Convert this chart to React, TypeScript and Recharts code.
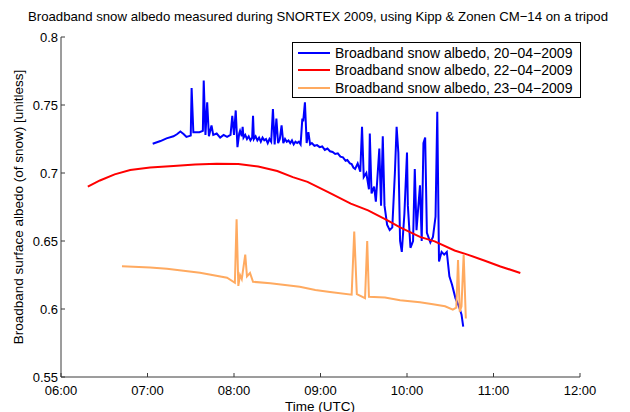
import { LineChart, Line, XAxis, YAxis } from 'recharts'

// time in decimal hours (UTC), albedo unitless
const t20 = [
  7.06, 7.15, 7.22, 7.30, 7.34, 7.38, 7.42, 7.45, 7.50, 7.51, 7.53, 7.60, 7.64, 7.65, 7.67, 7.69,
  7.71, 7.74, 7.76, 7.80, 7.84, 7.88, 7.92, 7.96, 7.98, 8.00, 8.02, 8.04, 8.06, 8.07, 8.09, 8.10,
  8.11, 8.13, 8.15, 8.17, 8.19, 8.21, 8.22, 8.23, 8.25, 8.27, 8.29, 8.31, 8.33, 8.35, 8.37, 8.39,
  8.41, 8.43, 8.45, 8.47, 8.49, 8.51, 8.53, 8.55, 8.57, 8.59, 8.61, 8.63, 8.65, 8.67, 8.69, 8.71,
  8.73, 8.75, 8.77, 8.79, 8.80, 8.82, 8.84, 8.86, 8.88, 8.90, 8.93, 8.96, 8.99, 9.02, 9.05, 9.08,
  9.11, 9.14, 9.17, 9.20, 9.23, 9.26, 9.29, 9.31, 9.34, 9.36, 9.38, 9.40, 9.43, 9.46, 9.48, 9.50,
  9.53, 9.56, 9.57, 9.59, 9.62, 9.64, 9.68, 9.70, 9.72, 9.74, 9.77, 9.80, 9.83, 9.86, 9.88, 9.90,
  9.92, 9.94, 9.97, 10.00, 10.01, 10.04, 10.07, 10.09, 10.11, 10.15, 10.17, 10.19, 10.21, 10.23,
  10.27, 10.30, 10.33, 10.35, 10.37, 10.40, 10.43, 10.46, 10.49, 10.52, 10.56, 10.60, 10.63, 10.65,
]
const albedo20 = [
  0.7215, 0.7235, 0.7255, 0.727, 0.7285, 0.7305, 0.7285, 0.7265, 0.7275, 0.7625, 0.73, 0.73, 0.731,
  0.768, 0.728, 0.752, 0.727, 0.735, 0.728, 0.729, 0.726, 0.728, 0.7265, 0.728, 0.742, 0.728,
  0.746, 0.719, 0.729, 0.731, 0.727, 0.734, 0.726, 0.728, 0.725, 0.727, 0.724, 0.726, 0.742, 0.725,
  0.727, 0.724, 0.726, 0.723, 0.726, 0.724, 0.725, 0.722, 0.725, 0.723, 0.747, 0.721, 0.74, 0.722,
  0.725, 0.735, 0.722, 0.725, 0.723, 0.724, 0.722, 0.724, 0.721, 0.723, 0.722, 0.723, 0.721, 0.74,
  0.738, 0.752, 0.722, 0.73, 0.721, 0.722, 0.72, 0.7205, 0.719, 0.7195, 0.717, 0.718, 0.716,
  0.7155, 0.714, 0.7145, 0.712, 0.7115, 0.709, 0.7095, 0.707, 0.7065, 0.704, 0.703, 0.707, 0.701,
  0.734, 0.697, 0.7, 0.688, 0.729, 0.685, 0.69, 0.679, 0.718, 0.676, 0.727, 0.676, 0.662, 0.658,
  0.66, 0.7, 0.734, 0.715, 0.65, 0.642, 0.67, 0.715, 0.676, 0.645, 0.65, 0.703, 0.658, 0.691, 0.65,
  0.722, 0.726, 0.656, 0.649, 0.653, 0.668, 0.745, 0.635, 0.642, 0.64, 0.642, 0.624, 0.618, 0.608,
  0.602, 0.596, 0.587,
]

const t22 = [
  6.31, 6.45, 6.62, 6.80, 7.03, 7.30, 7.55, 7.80, 8.05, 8.28, 8.50, 8.68, 8.85, 9.10, 9.35, 9.55,
  9.78, 9.92, 10.15, 10.32, 10.55, 10.70, 10.90, 11.08, 11.31,
]
const albedo22 = [
  0.69, 0.6945, 0.699, 0.7022, 0.704, 0.7052, 0.7062, 0.7068, 0.7066, 0.7048, 0.7015, 0.697,
  0.6935, 0.6855, 0.6775, 0.6725, 0.665, 0.66, 0.653, 0.6497, 0.643, 0.64, 0.6355, 0.6313, 0.6265,
]

const t23 = [
  6.705, 7.03, 7.225, 7.607, 7.92, 8.01, 8.03, 8.05, 8.07, 8.09, 8.13, 8.15, 8.185, 8.22, 8.42,
  8.76, 8.94, 9.11, 9.36, 9.39, 9.42, 9.515, 9.54, 9.56, 9.745, 9.92, 10.15, 10.30, 10.44, 10.53,
  10.57, 10.59, 10.61, 10.63, 10.655, 10.68,
]
const albedo23 = [
  0.6315, 0.6305, 0.6296, 0.6267, 0.623, 0.6193, 0.666, 0.617, 0.625, 0.622, 0.64, 0.624, 0.6265,
  0.62, 0.619, 0.6163, 0.614, 0.6125, 0.6105, 0.657, 0.611, 0.608, 0.65, 0.609, 0.6085, 0.6065,
  0.605, 0.6035, 0.602, 0.5995, 0.601, 0.636, 0.598, 0.602, 0.64, 0.593,
]

const seriesNames = [
  'Broadband snow albedo, 20−04−2009',
  'Broadband snow albedo, 22−04−2009',
  'Broadband snow albedo, 23−04−2009',
]
const seriesColors = ['#0000ff', '#ff0000', '#ffaa60']

const xTicks = [6, 7, 8, 9, 10, 11, 12]
const yTicks = [0.55, 0.6, 0.65, 0.7, 0.75, 0.8]

const toRows = (ts: number[], vs: number[]) => ts.map((t, i) => ({ t, v: vs[i] }))
const series = [toRows(t20, albedo20), toRows(t22, albedo22), toRows(t23, albedo23)]

const FONT = '"Liberation Sans", Arial, Helvetica, sans-serif'
const AXIS = '#3a3a3a'

const fmtHour = (h: number) => `${String(h).padStart(2, '0')}:00`

const LegendBox = () => (
  <div
    style={{
      position: 'absolute',
      left: 292,
      top: 42,
      width: 287,
      height: 54,
      border: '1px solid #000',
      background: '#fff',
      fontSize: 14,
      color: '#000',
    }}
  >
    {seriesNames.map((name, i) => (
      <div
        key={name}
        style={{ position: 'absolute', left: 0, top: 1 + i * 17.5, height: 17, display: 'flex', alignItems: 'center' }}
      >
        <span style={{ display: 'inline-block', width: 32, height: 2, background: seriesColors[i], marginLeft: 5, marginRight: 5 }} />
        <span style={{ whiteSpace: 'nowrap' }}>{name}</span>
      </div>
    ))}
  </div>
)

export default function App() {
  return (
    <div style={{ position: 'absolute', left: 0, top: 0, width: 630, height: 412, background: '#fff', fontFamily: FONT }}>
      <div
        style={{
          position: 'absolute',
          left: 0,
          width: 636,
          top: 9,
          textAlign: 'center',
          fontSize: 13.2,
          color: '#000',
          whiteSpace: 'nowrap',
        }}
      >
        Broadband snow albedo measured during SNORTEX 2009, using Kipp &amp; Zonen CM−14 on a tripod
      </div>
      <LineChart width={630} height={412} margin={{ top: 37, right: 50, bottom: 0, left: 0 }}>
        <XAxis
          type="number"
          dataKey="t"
          domain={[6, 12]}
          ticks={xTicks}
          tickFormatter={fmtHour}
          height={35}
          tickSize={-4}
          tickMargin={13}
          stroke={AXIS}
          tick={{ fill: '#000', fontSize: 13, fontFamily: FONT }}
        />
        <YAxis
          type="number"
          dataKey="v"
          domain={[0.55, 0.8]}
          ticks={yTicks}
          width={61}
          tickSize={-4}
          tickMargin={7}
          stroke={AXIS}
          tick={{ fill: '#000', fontSize: 13, fontFamily: FONT }}
        />
        {series.map((rows, i) => (
          <Line
            key={seriesNames[i]}
            data={rows}
            dataKey="v"
            name={seriesNames[i]}
            stroke={seriesColors[i]}
            strokeWidth={2}
            dot={false}
            type="linear"
            isAnimationActive={false}
          />
        ))}
      </LineChart>
      <LegendBox />
      <div
        style={{
          position: 'absolute',
          left: 320,
          top: 406,
          transform: 'translate(-50%, -50%)',
          fontSize: 13.5,
          lineHeight: '13px',
          color: '#000',
          whiteSpace: 'nowrap',
        }}
      >
        Time (UTC)
      </div>
      <div
        style={{
          position: 'absolute',
          left: 18,
          top: 207,
          transform: 'translate(-50%, -50%) rotate(-90deg)',
          fontSize: 13.5,
          color: '#000',
          whiteSpace: 'nowrap',
        }}
      >
        Broadband surface albedo (of snow) [unitless]
      </div>
    </div>
  )
}
